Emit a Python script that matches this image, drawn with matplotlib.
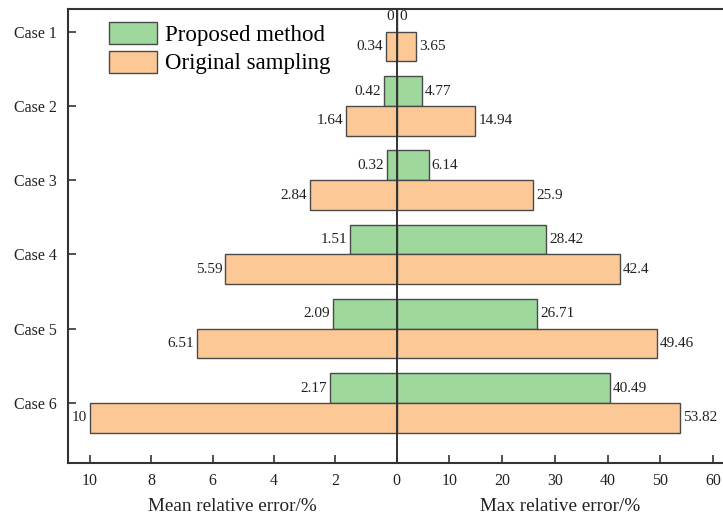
import matplotlib
matplotlib.use("Agg")
import matplotlib.pyplot as plt
from matplotlib.patches import Patch

plt.rcParams['font.family'] = ['Liberation Serif', 'DejaVu Serif']

cases = ["Case 1", "Case 2", "Case 3", "Case 4", "Case 5", "Case 6"]
mean_proposed = [0, 0.42, 0.32, 1.51, 2.09, 2.17]
mean_original = [0.34, 1.64, 2.84, 5.59, 6.51, 10]
max_proposed = [0, 4.77, 6.14, 28.42, 26.71, 40.49]
max_original = [3.65, 14.94, 25.9, 42.4, 49.46, 53.82]
left_ticks = [0, 2, 4, 6, 8, 10]
right_ticks = [10, 20, 30, 40, 50, 60]

GREEN = "#9ed89c"
ORANGE = "#fcc896"
EDGE = "#4a4a4a"
SPINE = "#333333"
TXT = "#222222"

W, H = 723, 516
fig = plt.figure(figsize=(W / 100, H / 100), dpi=100)

x0, xc, x1 = 68.3, 396.7, 723.0
ytop, ybot = 8.5, 463.0
axl = fig.add_axes([x0 / W, 1 - ybot / H, (xc - x0) / W, (ybot - ytop) / H])
axr = fig.add_axes([xc / W, 1 - ybot / H, (x1 - xc) / W, (ybot - ytop) / H], sharey=axl)
axr.patch.set_visible(False)

ypos = list(range(len(cases)))
bh = 0.4

# left half: mean relative error (reversed scale)
axl.barh([y - bh / 2 for y in ypos], mean_proposed, height=bh, color=GREEN,
         edgecolor=EDGE, linewidth=1.0)
axl.barh([y + bh / 2 for y in ypos], mean_original, height=bh, color=ORANGE,
         edgecolor=EDGE, linewidth=1.0)
axl.set_xlim(10 + (90.0 - x0) / 30.67, 0)

# right half: max relative error
axr.barh([y - bh / 2 for y in ypos], max_proposed, height=bh, color=GREEN,
         edgecolor=EDGE, linewidth=1.0)
axr.barh([y + bh / 2 for y in ypos], max_original, height=bh, color=ORANGE,
         edgecolor=EDGE, linewidth=1.0)
axr.set_xlim(0, (x1 - xc) / 5.27)

# shared zero line drawn over the bars
axr.axvline(0, color=SPINE, linewidth=1.4, zorder=5, clip_on=False)

axl.set_ylim(5.808, -0.312)

fs_val = 11
for y, v in zip(ypos, mean_proposed):
    axl.annotate(f"{v:g}", (v, y - bh / 2), xytext=(-2, 0), textcoords="offset points",
                 ha="right", va="center", fontsize=fs_val, color=TXT)
for y, v in zip(ypos, mean_original):
    axl.annotate(f"{v:g}", (v, y + bh / 2), xytext=(-2, 0), textcoords="offset points",
                 ha="right", va="center", fontsize=fs_val, color=TXT)
for y, v in zip(ypos, max_proposed):
    axr.annotate(f"{v:g}", (v, y - bh / 2), xytext=(2, 0), textcoords="offset points",
                 ha="left", va="center", fontsize=fs_val, color=TXT)
for y, v in zip(ypos, max_original):
    axr.annotate(f"{v:g}", (v, y + bh / 2), xytext=(2, 0), textcoords="offset points",
                 ha="left", va="center", fontsize=fs_val, color=TXT)

fs_tick = 11.5
axl.set_yticks(ypos)
axl.set_yticklabels(cases)
axl.set_xticks(left_ticks)
axr.set_xticks(right_ticks)
axl.tick_params(axis="both", direction="in", length=6, width=1.2, color=SPINE,
                labelsize=fs_tick, labelcolor=TXT, pad=7)
axl.tick_params(axis="y", pad=8)
axr.tick_params(axis="x", direction="in", length=6, width=1.2, color=SPINE,
                labelsize=fs_tick, labelcolor=TXT, pad=7)
axr.tick_params(axis="y", left=False, labelleft=False)

for ax in (axl, axr):
    for sp in ax.spines.values():
        sp.set_color(SPINE)
        sp.set_linewidth(1.5)
axl.spines["right"].set_visible(False)
axr.spines["left"].set_visible(False)
axr.spines["right"].set_visible(False)

axl.set_xlabel("Mean relative error/%", fontsize=13.8, color=TXT, labelpad=7)
axr.set_xlabel("Max relative error/%", fontsize=13.8, color=TXT, labelpad=7)

handles = [Patch(facecolor=GREEN, edgecolor=EDGE, linewidth=1.0, label="Proposed method"),
           Patch(facecolor=ORANGE, edgecolor=EDGE, linewidth=1.0, label="Original sampling")]
axl.legend(handles=handles, loc="upper left", bbox_to_anchor=(0.075, 1.005), frameon=False,
           fontsize=16.5, handlelength=2.1, handleheight=1.1, handletextpad=0.35,
           labelspacing=0.2, borderaxespad=0.3)

fig.savefig("out.png", dpi=100)
